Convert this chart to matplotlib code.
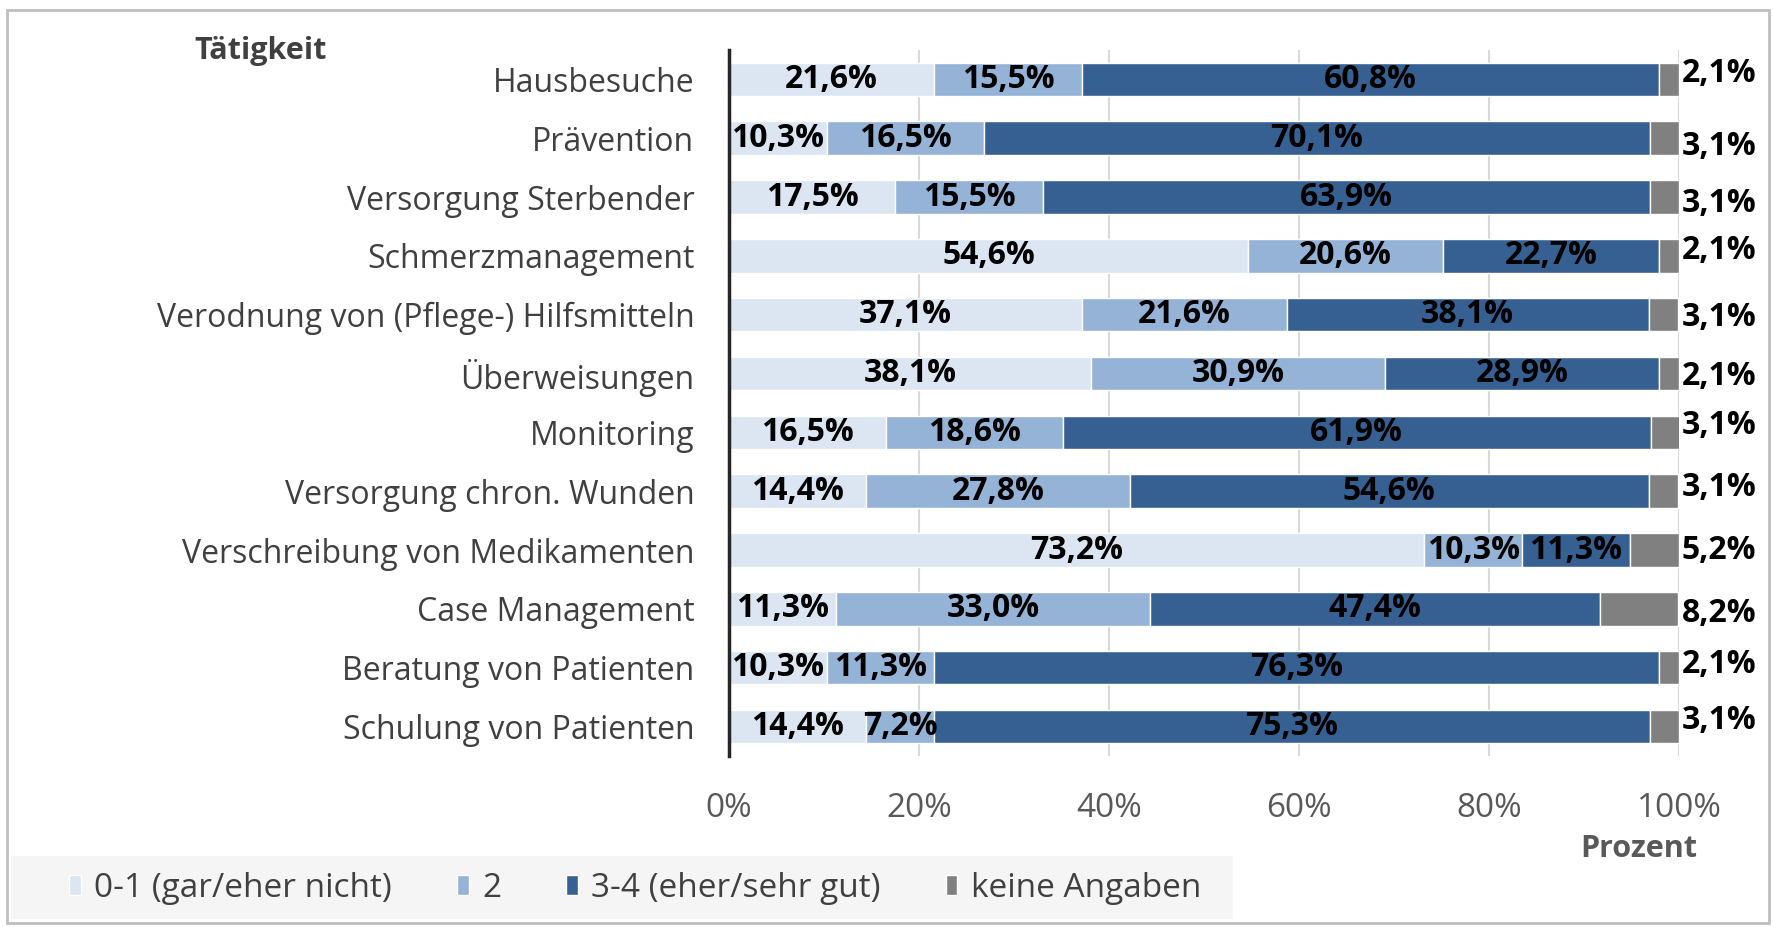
import matplotlib
matplotlib.use("Agg")
import matplotlib.pyplot as plt
from matplotlib.patches import Rectangle
import numpy as np

plt.rcParams['font.family'] = ['Open Sans', 'DejaVu Sans']

# Daten (Anteile in Prozent)
taetigkeiten = [
    "Hausbesuche",
    "Prävention",
    "Versorgung Sterbender",
    "Schmerzmanagement",
    "Verodnung von (Pflege-) Hilfsmitteln",
    "Überweisungen",
    "Monitoring",
    "Versorgung chron. Wunden",
    "Verschreibung von Medikamenten",
    "Case Management",
    "Beratung von Patienten",
    "Schulung von Patienten",
]
gar_eher_nicht = [21.6, 10.3, 17.5, 54.6, 37.1, 38.1, 16.5, 14.4, 73.2, 11.3, 10.3, 14.4]
mittel = [15.5, 16.5, 15.5, 20.6, 21.6, 30.9, 18.6, 27.8, 10.3, 33.0, 11.3, 7.2]
eher_sehr_gut = [60.8, 70.1, 63.9, 22.7, 38.1, 28.9, 61.9, 54.6, 11.3, 47.4, 76.3, 75.3]
keine_angaben = [2.1, 3.1, 3.1, 2.1, 3.1, 2.1, 3.1, 3.1, 5.2, 8.2, 2.1, 3.1]

serien = ["0-1 (gar/eher nicht)", "2", "3-4 (eher/sehr gut)", "keine Angaben"]
farben = ["#dce6f2", "#95b3d7", "#376092", "#808080"]

# vertikaler Versatz der Aussenbeschriftung (Punkte), wie im Original
versatz_aussen = [4, -6, -5, 4, -2, -2, 5, 3, 0, -3, 2, 4]

fs = 23

fig = plt.figure(figsize=(17.74, 9.27), dpi=100)
ax = fig.add_axes([0.411, 0.1845, 0.5355, 0.7616])

y = np.arange(len(taetigkeiten))
links = np.zeros(len(taetigkeiten))
werte = [gar_eher_nicht, mittel, eher_sehr_gut, keine_angaben]
for i, (name, w, c) in enumerate(zip(serien, werte, farben)):
    w = np.array(w)
    bars = ax.barh(y, w, left=links, height=0.57, color=c, edgecolor="white",
                   linewidth=1, label=name, zorder=3)
    if i < 3:
        for b, v in zip(bars, w):
            ax.text(b.get_x() + b.get_width() / 2, b.get_y() + b.get_height() / 2,
                    f"{v:.1f}%".replace(".", ","), ha="center", va="center",
                    fontsize=fs, fontweight="bold", color="black", zorder=4)
    else:
        for b, v, dy in zip(bars, w, versatz_aussen):
            ax.annotate(f"{v:.1f}%".replace(".", ","), (100, b.get_y() + b.get_height() / 2),
                        xytext=(2, dy), textcoords="offset points", ha="left", va="center",
                        fontsize=fs, fontweight="bold", color="black",
                        annotation_clip=False)
    links = links + w

ax.set_xlim(0, 100)
ax.set_ylim(len(taetigkeiten) - 0.5, -0.5)
ax.set_yticks(y)
ax.set_yticklabels(taetigkeiten, fontsize=fs, color="#404040")
ax.set_xticks([0, 20, 40, 60, 80, 100])
ax.set_xticklabels(["0%", "20%", "40%", "60%", "80%", "100%"], fontsize=24, color="#595959")
ax.tick_params(axis="both", length=0)
ax.tick_params(axis="x", pad=26)
ax.tick_params(axis="y", pad=25)
ax.grid(axis="x", color="#d9d9d9", linewidth=1.5, zorder=0)
for s in ["top", "right", "bottom"]:
    ax.spines[s].set_visible(False)
ax.spines["left"].set_color("#262626")
ax.spines["left"].set_linewidth(2.5)
ax.spines["left"].set_zorder(5)

fig.text(0.147, 0.945, "Tätigkeit", fontsize=22, fontweight="bold", color="#404040",
         ha="center", va="center")
fig.text(0.924, 0.084, "Prozent", fontsize=22, fontweight="bold", color="#595959",
         ha="center", va="center")

# Legendenhintergrund
fig.patches.append(Rectangle((0.006, 0.009), 0.689, 0.068, transform=fig.transFigure,
                             facecolor="#f5f5f5", edgecolor="none", zorder=0))
leg = fig.legend(loc="center left", bbox_to_anchor=(0.039, 0.042), ncol=4, frameon=False,
                 fontsize=24, handlelength=0.35, handleheight=0.55, handletextpad=0.4,
                 columnspacing=1.95, borderaxespad=0, borderpad=0)
for t in leg.get_texts():
    t.set_color("#404040")

# Rahmen
fig.patches.append(Rectangle((0.004, 0.004), 0.993, 0.985, transform=fig.transFigure,
                             facecolor="none", edgecolor="#bfbfbf", linewidth=2))

fig.savefig("out.png", dpi=100)
